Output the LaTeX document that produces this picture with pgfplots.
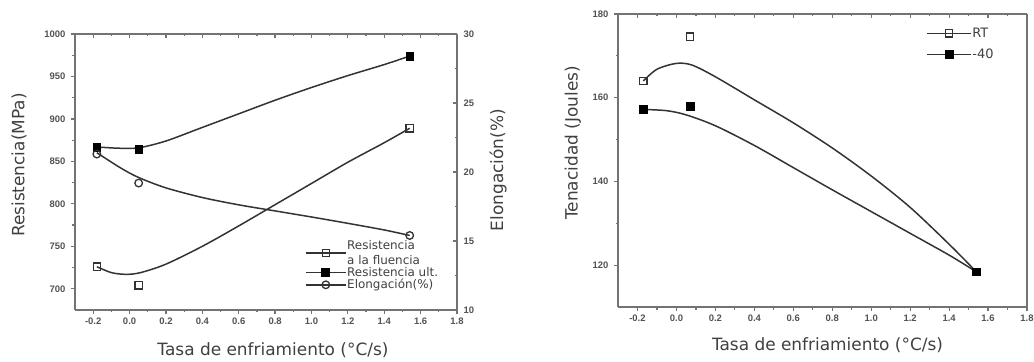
\documentclass[border=0pt]{standalone}
\usepackage{fontspec}
\setmainfont{DejaVu Sans}
\newfontfamily\tickfont{Liberation Sans}
\usepackage{pgfplots}
\pgfplotsset{compat=1.18}

\definecolor{ink}{gray}{0.2}
\definecolor{axgray}{gray}{0.45}

\pgfplotsset{
  base/.style={
    scale only axis,
    xmin=-0.3, xmax=1.8,
    xtick={-0.2,0.0,0.2,0.4,0.6,0.8,1.0,1.2,1.4,1.6,1.8},
    minor x tick num=1,
    axis line style={draw=axgray, line width=2.5bp},
    every tick/.style={draw=axgray, line width=1.2bp},
    major tick length=4bp, minor tick length=2.5bp,
    tick label style={font=\tickfont\bfseries\fontsize{9.5}{10}\selectfont, text=black!68},
    xticklabel style={/pgf/number format/fixed, /pgf/number format/fixed zerofill, /pgf/number format/precision=1},
    yticklabel style={/pgf/number format/fixed, /pgf/number format/1000 sep={}},
    /pgf/number format/assume math mode=true,
    label style={font=\fontsize{17}{19}\selectfont, text=black!75},
  },
  curve/.style={ink, line width=1.5bp, smooth, tension=0.5, no markers},
  leg/.style={ink, line width=1.5bp},
  opensq/.style={mark=square, mark size=3.6bp, mark options={draw=ink, fill=white, line width=1.3bp, solid}},
  opencirc/.style={mark=o, mark size=3.8bp, mark options={draw=ink, fill=white, line width=1.3bp, solid}},
  fullsq/.style={mark=square*, mark size=3.8bp, mark options={draw=black, fill=black, solid}},
}

\begin{document}
\begin{tikzpicture}
\path[use as bounding box] (0bp,0bp) rectangle (1034bp,362bp);

% ---------------- Resistencia y elongacion ----------------
\begin{axis}[base,
  at={(75bp,52bp)}, anchor=south west,
  width=382bp, height=276bp,
  ymin=675, ymax=1000,
  ytick={700,750,800,850,900,950,1000},
  minor y tick num=1,
  axis x line*=bottom, axis y line*=left,
  tick align=outside,
  yticklabel style={xshift=-2bp},
  xlabel={Tasa de enfriamiento (°C/s)},
  xlabel style={at={(axis description cs:0.5,0)}, anchor=center, yshift=-40bp, xshift=7bp},
  ylabel={Resistencia(MPa)},
  ylabel style={at={(axis description cs:0,0.525)}, anchor=center, yshift=56bp},
  legend style={at={(0.594,0.262)}, anchor=north west, draw=none, fill=none,
    font=\fontsize{12}{14.5}\selectfont, text=black!75,
    cells={anchor=west, align=left}, row sep=0.4bp,
    nodes={inner sep=0.6bp},
    /tikz/every even column/.style={column sep=1bp}},
  legend image code/.code={\draw[mark repeat=2, mark phase=2]
    plot coordinates {(0bp,0bp) (20bp,0bp) (40bp,0bp)};},
]
% resistencia a la fluencia
\addplot[curve, forget plot] coordinates {
  (-0.18,726) (-0.1,719) (-0.02,717) (0.06,719) (0.2,729) (0.4,750)
  (0.6,774) (0.8,799) (1.0,824) (1.2,849) (1.4,872) (1.54,889)};
% resistencia ultima
\addplot[curve, forget plot] coordinates {
  (-0.18,867) (-0.06,865.5) (0.05,866) (0.2,874) (0.4,890) (0.6,906)
  (0.8,922) (1.0,937) (1.2,951) (1.4,964) (1.54,974)};
\addplot[only marks, opensq, forget plot] coordinates {
  (-0.18,726) (0.05,704) (1.54,889)};
\addplot[only marks, fullsq, forget plot] coordinates {
  (-0.18,867) (0.05,864) (1.54,974)};
\addlegendimage{leg, opensq}
\addlegendentry{Resistencia\\a la fluencia}
\addlegendimage{leg, fullsq}
\addlegendentry{Resistencia ult.}
\addlegendimage{leg, opencirc}
\addlegendentry{Elongación(\%)}
\end{axis}

\begin{axis}[base,
  at={(75bp,52bp)}, anchor=south west,
  width=382bp, height=276bp,
  ymin=10, ymax=30,
  ytick={10,15,20,25,30},
  minor y tick num=1,
  axis x line*=top, axis y line*=right,
  tick align=inside,
  xticklabels={},
  yticklabel style={xshift=3bp},
  ylabel={Elongación(\%)},
  ylabel style={at={(axis description cs:1,0.507)}, anchor=center, yshift=-41bp},
]
% elongacion
\addplot[curve] coordinates {
  (-0.18,21.4) (-0.05,20.3) (0.05,19.6) (0.2,18.85) (0.4,18.15) (0.6,17.62)
  (0.8,17.18) (1.0,16.74) (1.2,16.28) (1.4,15.8) (1.54,15.4)};
\addplot[only marks, opencirc] coordinates {
  (-0.18,21.3) (0.05,19.2) (1.54,15.4)};
\end{axis}

% ---------------- Tenacidad ----------------
\begin{axis}[base,
  at={(618bp,55bp)}, anchor=south west,
  width=409bp, height=293bp,
  ymin=110, ymax=180,
  ytick={120,140,160,180},
  minor y tick num=1,
  axis x line*=bottom, axis y line*=left,
  tick align=outside,
  yticklabel style={xshift=-2bp},
  xlabel={Tasa de enfriamiento (°C/s)},
  xlabel style={at={(axis description cs:0.5,0)}, anchor=center, yshift=-38bp, xshift=5bp},
  ylabel={Tenacidad (Joules)},
  ylabel style={at={(axis description cs:0,0.56)}, anchor=center, yshift=45bp},
  legend style={at={(0.746,0.962)}, anchor=north west, draw=none, fill=none,
    font=\fontsize{13}{15}\selectfont, text=black!75,
    cells={anchor=west}, row sep=9bp,
    nodes={inner sep=0.6bp},
    /tikz/every even column/.style={column sep=3bp}},
  legend image code/.code={\draw[mark repeat=2, mark phase=2]
    plot coordinates {(0bp,0bp) (22bp,0bp) (44bp,0bp)};},
]
\addplot[curve, forget plot] coordinates {
  (-0.17,164) (-0.1,166.8) (0.0,168.2) (0.08,167.8) (0.2,165) (0.4,159.5)
  (0.6,154) (0.8,148) (1.0,141.3) (1.2,133.8) (1.4,125) (1.54,118.4)};
\addplot[curve, forget plot] coordinates {
  (-0.17,157.2) (-0.05,156.9) (0.05,155.9) (0.2,153.3) (0.4,148.6)
  (0.6,143.3) (0.8,138.0) (1.0,132.8) (1.2,127.6) (1.4,122.4) (1.54,118.4)};
\addplot[only marks, opensq, forget plot] coordinates {
  (-0.17,164) (0.07,174.6) (1.54,118.4)};
\addplot[only marks, fullsq, forget plot] coordinates {
  (-0.17,157.2) (0.07,158) (1.54,118.4)};
\addlegendimage{leg, opensq}
\addlegendentry{RT}
\addlegendimage{leg, fullsq}
\addlegendentry{-40}
\end{axis}

\begin{axis}[base,
  at={(618bp,55bp)}, anchor=south west,
  width=409bp, height=293bp,
  ymin=110, ymax=180,
  axis x line*=top, axis y line*=right,
  tick align=inside,
  xticklabels={}, ytick=\empty,
]
\end{axis}
\end{tikzpicture}
\end{document}
